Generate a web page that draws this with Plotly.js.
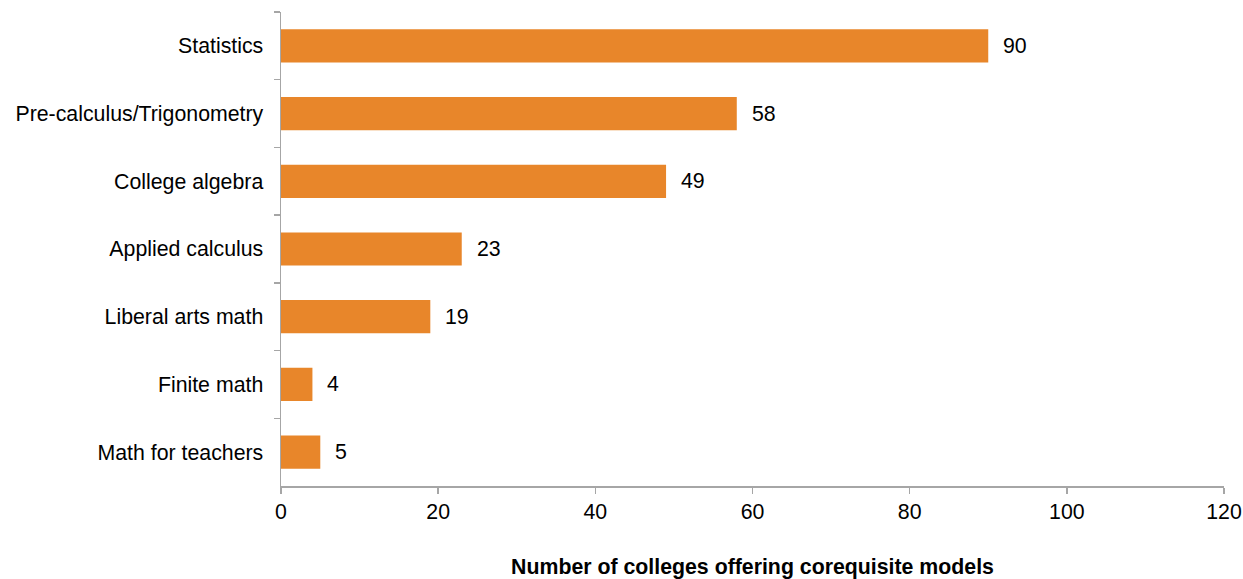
<!DOCTYPE html>
<html>
<head>
<meta charset="utf-8">
<script src="https://cdn.plot.ly/plotly-3.0.1.min.js"></script>
<style>html,body{margin:0;padding:0;background:#fff;}#chart{width:1243px;height:579px;}</style>
</head>
<body>
<div id="chart"></div>
<script>
var categories = ["Statistics", "Pre-calculus/Trigonometry", "College algebra", "Applied calculus", "Liberal arts math", "Finite math", "Math for teachers"];
var values = [90, 58, 49, 23, 19, 4, 5];
var xTicks = [0, 20, 40, 60, 80, 100, 120];
var xTitle = "Number of colleges offering corequisite models";

var font = "Liberation Sans, Arial, sans-serif";
var fs = 21.3;
var trace = {
  type: "bar",
  orientation: "h",
  y: categories,
  x: values,
  marker: {color: "#E8862A"},
  hoverinfo: "x+y"
};
var annotations = categories.map(function(c, i) {
  return {x: values[i], y: c, xref: "x", yref: "y", text: String(values[i]),
    showarrow: false, xanchor: "left", xshift: 13, font: {family: font, size: fs, color: "#000"}};
});
var layout = {
  width: 1243, height: 579,
  margin: {l: 281, r: 19, t: 12, b: 93},
  paper_bgcolor: "#fff", plot_bgcolor: "#fff",
  bargap: 0.51,
  showlegend: false,
  font: {family: font, size: fs, color: "#000"},
  xaxis: {
    range: [0, 120], tickvals: xTicks, ticktext: xTicks.map(String),
    showgrid: false, zeroline: false, showline: true, linecolor: "#A6A6A6", linewidth: 1.5,
    ticks: "outside", ticklen: 6, tickcolor: "#A6A6A6", tickwidth: 1.5,
    tickfont: {family: font, size: fs, color: "#000"},
    title: {text: "<b>" + xTitle + "</b>", standoff: 36, font: {family: font, size: fs, color: "#000"}},
    fixedrange: true
  },
  yaxis: {
    type: "category", autorange: "reversed",
    showgrid: false, zeroline: false, showline: true, linecolor: "#A6A6A6", linewidth: 1.5,
    ticks: "outside", ticklen: 6, tickcolor: "#A6A6A6", tickwidth: 1.5, tickson: "boundaries",
    ticklabelstandoff: 12,
    tickfont: {family: font, size: fs, color: "#000"},
    fixedrange: true
  },
  annotations: annotations
};
Plotly.newPlot("chart", [trace], layout, {displayModeBar: false, staticPlot: true});
</script>
</body>
</html>
